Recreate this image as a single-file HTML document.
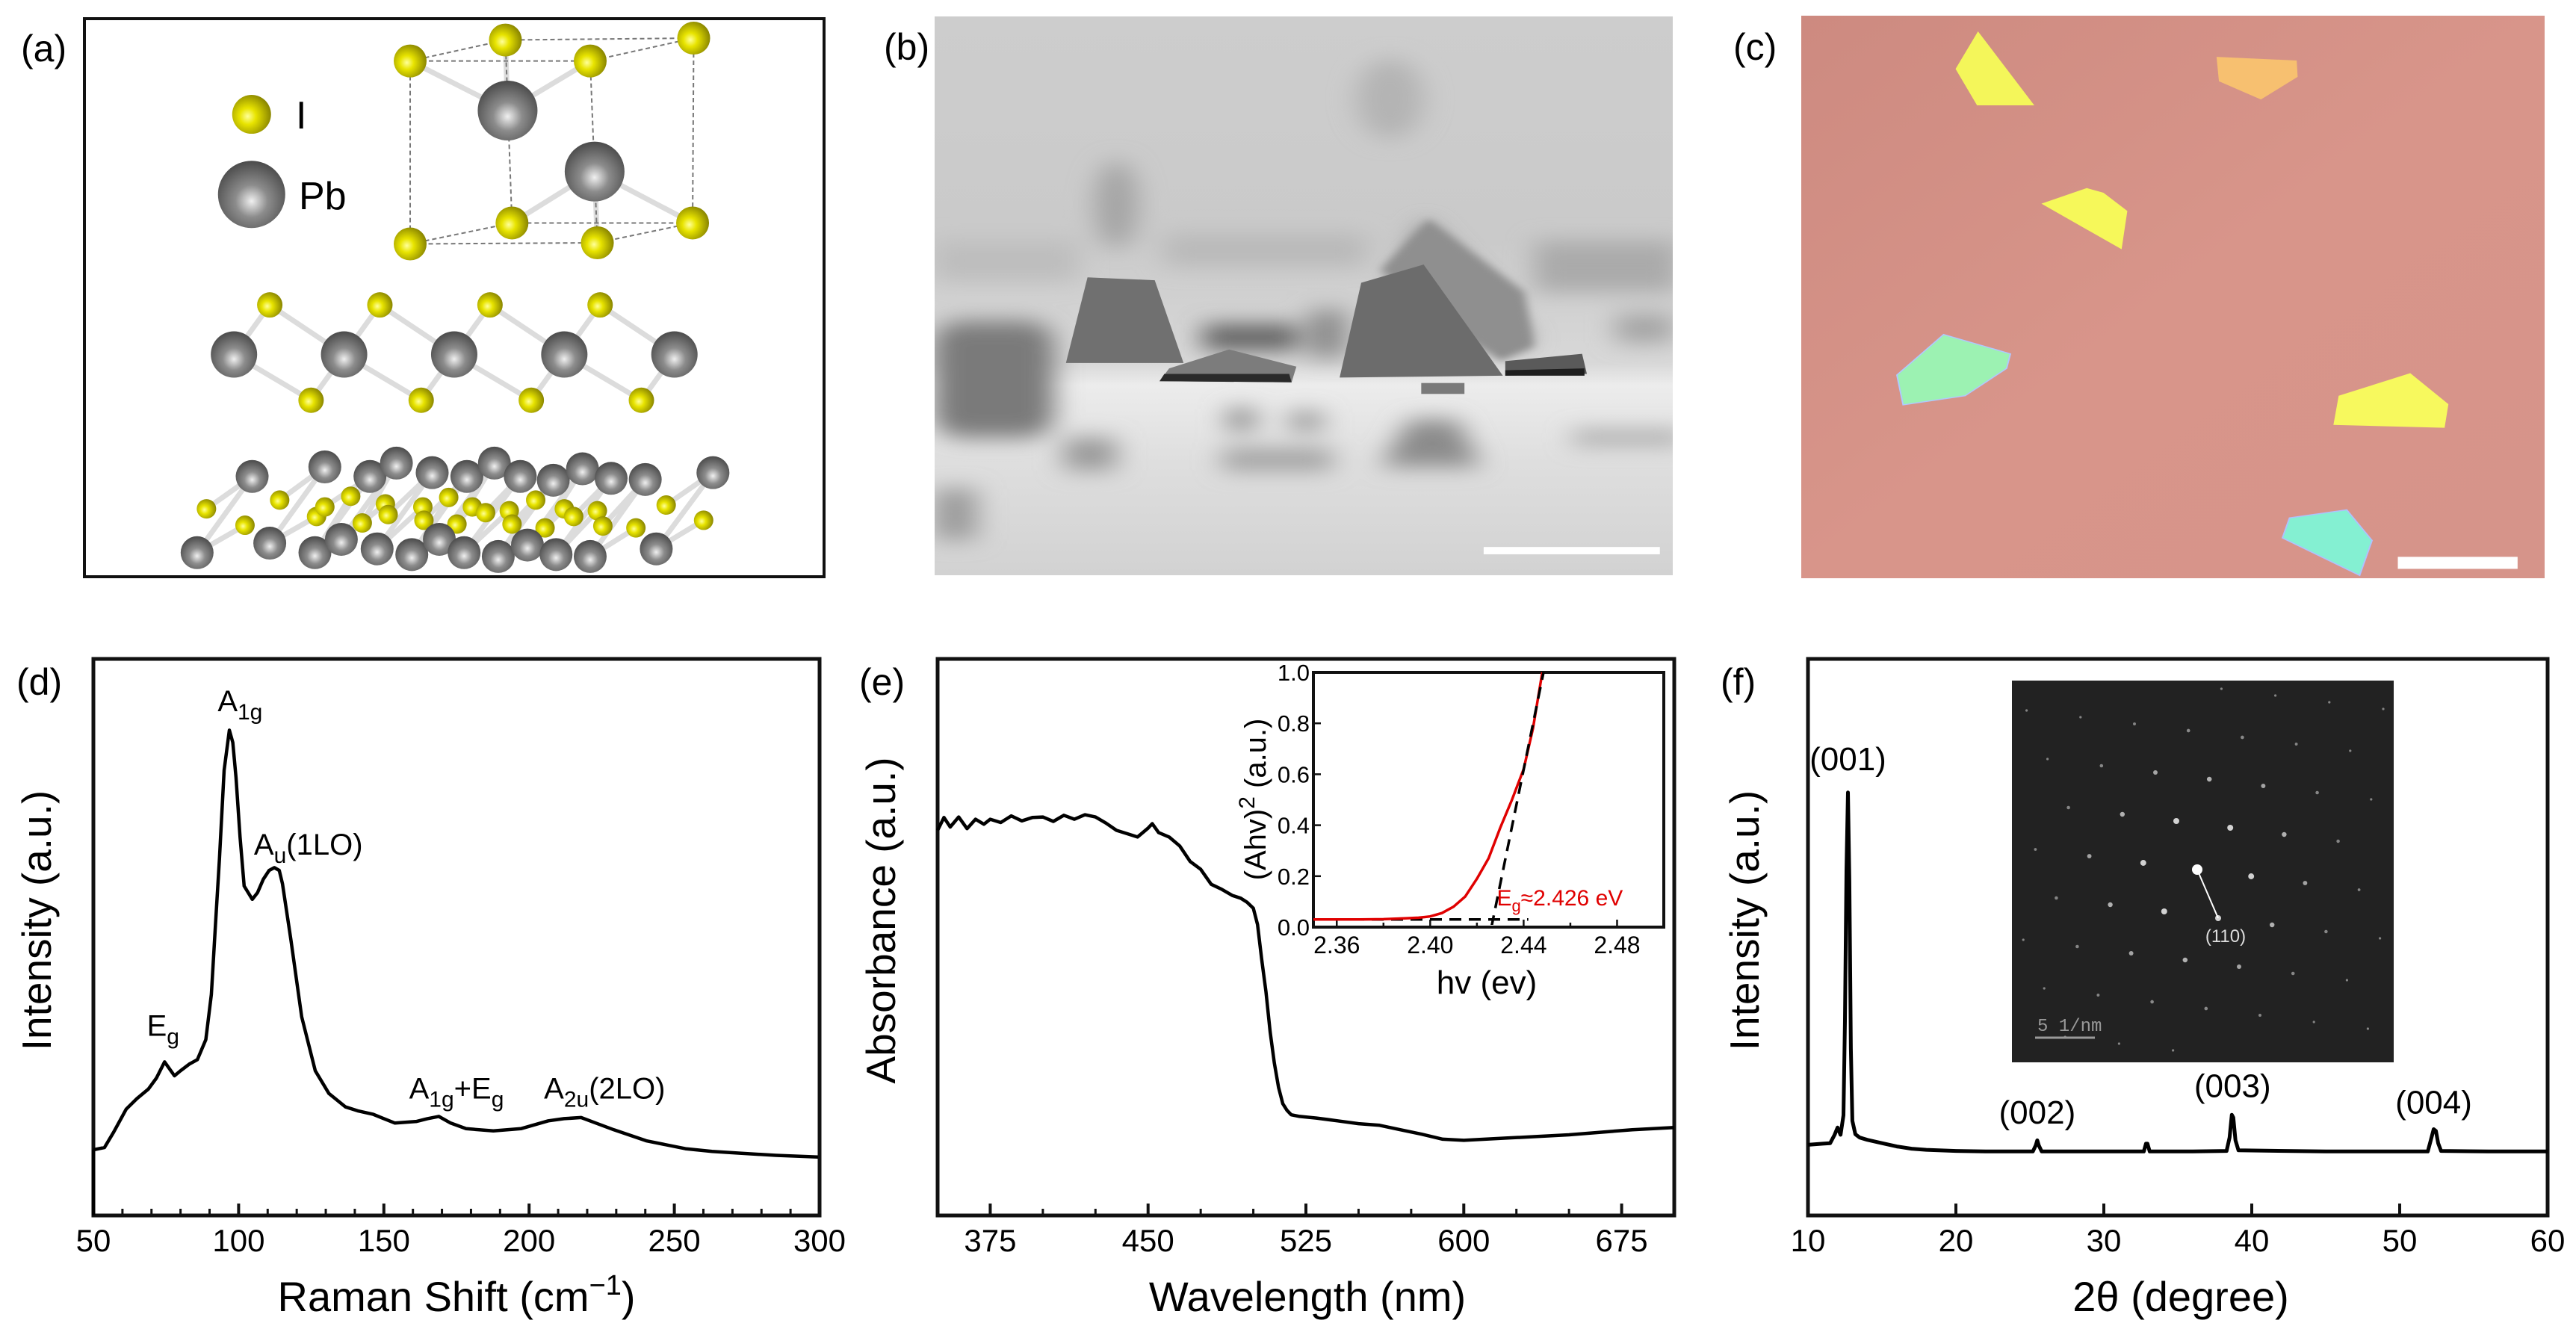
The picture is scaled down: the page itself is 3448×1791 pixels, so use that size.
<!DOCTYPE html>
<html><head><meta charset="utf-8"><title>PbI2 characterization figure</title>
<style>
html,body{margin:0;padding:0;background:#fff;}
svg{display:block;font-family:"Liberation Sans",Arial,sans-serif;}
</style></head>
<body>
<svg id="fig" width="3448" height="1791" viewBox="0 0 3448 1791" xmlns="http://www.w3.org/2000/svg">
<defs>
 <radialGradient id="gI" cx="0.4" cy="0.55" r="0.6"><stop offset="0" stop-color="#ffff9a"/><stop offset="0.35" stop-color="#e8e400"/><stop offset="1" stop-color="#8a8600"/></radialGradient>
 <radialGradient id="gPb" cx="0.5" cy="0.6" r="0.6"><stop offset="0" stop-color="#f0f0f0"/><stop offset="0.4" stop-color="#8c8c8c"/><stop offset="1" stop-color="#4a4a4a"/></radialGradient>
 <filter id="blur12" x="-50%" y="-50%" width="200%" height="200%"><feGaussianBlur stdDeviation="28"/></filter>
 <filter id="blur6" x="-50%" y="-50%" width="200%" height="200%"><feGaussianBlur stdDeviation="10"/></filter>
 <linearGradient id="semBg" x1="0" y1="0" x2="0" y2="1">
  <stop offset="0" stop-color="#cdcdcd"/><stop offset="0.4" stop-color="#cacaca"/><stop offset="0.62" stop-color="#d8d8d8"/><stop offset="0.66" stop-color="#ececec"/><stop offset="0.8" stop-color="#dedede"/><stop offset="1" stop-color="#d2d2d2"/></linearGradient>
 <linearGradient id="omBg" x1="0" y1="0" x2="1" y2="1">
  <stop offset="0" stop-color="#cd8a80"/><stop offset="0.5" stop-color="#d8958a"/><stop offset="1" stop-color="#d6948a"/></linearGradient>
 <clipPath id="clipB"><rect x="1251" y="22" width="988" height="748"/></clipPath>
 <clipPath id="clipD"><rect x="125" y="882" width="970" height="745"/></clipPath>
 <clipPath id="clipEin"><rect x="1753" y="895" width="472" height="343"/></clipPath>
</defs>

<!-- panel labels -->
<text x="28" y="82" font-size="50">(a)</text>
<text x="1183" y="80" font-size="50">(b)</text>
<text x="2320" y="80" font-size="50">(c)</text>
<text x="22" y="930" font-size="50">(d)</text>
<text x="1150" y="930" font-size="50">(e)</text>
<text x="2303" y="930" font-size="50">(f)</text>

<!-- panel a -->
<g id="panelA">
 <rect x="113" y="25" width="990" height="747" fill="#fff" stroke="#111" stroke-width="4"/>
 <g id="aBonds" stroke="#dcdcdc" stroke-width="7"></g>
 <g id="aDash" stroke="#777" stroke-width="2" stroke-dasharray="6,4" fill="none"></g>
 <g id="aAtoms"></g>
 <text x="396" y="172" font-size="52">I</text>
 <text x="400" y="280" font-size="52">Pb</text>
</g>

<!-- panel b SEM -->
<g id="panelB" clip-path="url(#clipB)">
 <rect x="1251" y="22" width="988" height="748" fill="url(#semBg)"/>
 <g transform="translate(1250,20) scale(0.6427,0.4878)">
  <g filter="url(#blur12)" fill="#a8a8a8">
   <ellipse cx="950" cy="230" rx="70" ry="110" fill="#b4b4b4"/>
   <ellipse cx="380" cy="520" rx="45" ry="120" fill="#a4a4a4"/>
   <rect x="0" y="620" width="300" height="110" fill="#bdbdbd"/>
   <rect x="480" y="600" width="420" height="90" fill="#b9b9b9"/>
   <rect x="1250" y="620" width="300" height="140" fill="#aaaaaa"/>
   <polygon points="1020,560 1250,900 900,920" fill="#8a8a8a"/>
   <rect x="0" y="840" width="250" height="320" fill="#7a7a7a" rx="60"/>
   <rect x="560" y="850" width="200" height="70" fill="#5e5e5e"/>
   <rect x="780" y="810" width="80" height="130" fill="#8c8c8c"/>
   <rect x="610" y="1080" width="60" height="60" fill="#8e8e8e"/>
   <rect x="740" y="1090" width="70" height="50" fill="#959595"/>
   <polygon points="990,1110 1090,1110 1140,1240 930,1240" fill="#8b8b8b"/>
   <rect x="270" y="1160" width="110" height="90" fill="#9a9a9a"/>
   <rect x="600" y="1190" width="230" height="60" fill="#a0a0a0"/>
   <rect x="1330" y="1140" width="230" height="40" fill="#a8a8a8"/>
   <rect x="0" y="1300" width="90" height="140" fill="#9c9c9c"/>
   <rect x="1420" y="820" width="120" height="80" fill="#a4a4a4"/>
  </g>
  <g filter="url(#blur6)">
   <polygon points="1030,560 1230,760 1250,910 1180,950 930,700" fill="#8f8f8f"/>
  </g>
  <polygon points="320,720 460,728 520,955 275,955" fill="#707070"/>
  <polygon points="1020,685 1185,990 845,995 890,735" fill="#6c6c6c"/>
  <polygon points="470,1005 490,970 615,918 755,965 745,1008" fill="#7c7c7c"/>
  <polygon points="470,1005 745,1008 740,985 480,985" fill="#2a2a2a"/>
  <polygon points="1190,950 1350,930 1360,985 1190,990" fill="#5a5a5a"/>
  <polygon points="1190,975 1355,970 1355,990 1190,990" fill="#1e1e1e"/>
  <rect x="1015" y="1010" width="90" height="30" fill="#7a7a7a"/>
  <rect x="1145" y="1460" width="367" height="20" fill="#fff"/>
 </g>
</g>

<!-- panel c optical -->
<g id="panelC">
 <rect x="2411" y="21" width="995" height="753" fill="url(#omBg)"/>
 <g transform="translate(2410,20) scale(0.6386,0.4878)">
  <polygon points="372,45 490,248 370,248 325,148" fill="#f4f65a"/>
  <polygon points="872,115 1040,125 1042,170 965,232 877,182" fill="#f7c070"/>
  <polygon points="505,518 600,475 635,488 685,538 673,643" fill="#f6f85a"/>
  <polygon points="300,877 440,930 432,970 345,1045 215,1070 202,988" fill="#9cf2b2" stroke="#b0c8ff" stroke-width="3"/>
  <polygon points="1128,1045 1278,983 1358,1068 1350,1133 1117,1125" fill="#f7f95e"/>
  <polygon points="1025,1380 1145,1358 1198,1442 1172,1538 1010,1435" fill="#84f0d2" stroke="#b0c0ff" stroke-width="3"/>
  <rect x="1252" y="1487" width="251" height="33" fill="#fff"/>
 </g>
</g>

<g id="panelD"></g>
<g id="panelE"></g>
<g id="panelF"></g>
</svg>

<script>
// ---------- DATA ----------
// Raman (d)
const ramanShift = [50,53.8,57,61.3,65,68.9,71.7,74.5,77.9,80,83,85.8,88.7,90.6,92,93.4,95,96.8,98,99.1,100.5,101.9,104.7,106.5,108.5,110.5,112.3,114,115.1,118,121.7,126.4,131.1,136.8,141,146.2,153.8,161.3,165,168.9,173,178.3,187.7,197.2,206.6,212,217.9,223,229.2,240.5,253.8,263,272.6,285,300];
const ramanInt   = [11.8,12.2,15,19.1,21,22.7,24.7,27.6,25.1,26,27.2,28,31.6,39.7,52,64,80,87.2,85,78.7,68,59.2,56.8,58,60.4,62,62.5,62,59.6,49.5,35.7,26,21.9,19.5,18.8,18.2,16.6,16.9,17.4,17.8,16.6,15.6,15.2,15.6,17,17.4,17.6,16.6,15.4,13.4,12,11.5,11.2,10.8,10.5];
const ramanXTicks = [50,100,150,200,250,300];
const ramanLabels = [
 {t:"E",s:"g",tail:"",x:74,y:32.3},
 {t:"A",s:"1g",tail:"",x:100.5,y:90.6},
 {t:"A",s:"u",tail:"(1LO)",x:124,y:64.8},
 {t:"A",s:"1g",tail:"+E",s2:"g",x:175,y:21},
 {t:"A",s:"2u",tail:"(2LO)",x:226,y:21}
];
// Absorbance (e)
const wavelength = [350,353,356,360,364,368,372,375,380,385,390,395,400,405,410,415,420,425,430,435,440,445,450,452,455,460,465,470,475,480,485,490,494,497,500,502,504,506,508,510,512,514,516,518,522,530,540,550,560,570,580,590,600,610,620,630,640,650,660,670,680,690,700];
const absorb     = [69.2,71.5,69.8,71.6,69.5,71.2,70.3,71.2,70.6,71.8,70.9,71.5,71.6,70.8,71.9,71.2,72,71.6,70.5,69.2,68.6,68,69.6,70.4,68.8,68,66.4,63.6,62.2,59.5,58.6,57.5,57,56.3,55.2,52.3,46,40.2,33,27.4,23,20.1,18.9,18.1,17.8,17.5,17,16.5,16.2,15.4,14.6,13.7,13.5,13.7,13.9,14.1,14.3,14.5,14.8,15.1,15.4,15.6,15.8];
const absXTicks = [375,450,525,600,675];
// Inset Tauc
const tauHv  = [2.350,2.360,2.370,2.380,2.390,2.395,2.400,2.405,2.410,2.415,2.420,2.425,2.430,2.435,2.440,2.444,2.448];
const tauVal = [0.030,0.030,0.030,0.031,0.035,0.037,0.042,0.055,0.08,0.12,0.19,0.27,0.39,0.50,0.62,0.78,1.0];
const tauFitX = [2.4262,2.4485];
const tauFitY = [0.0,1.0];
const tauBaseX = [2.350,2.442];
const tauBaseY = [0.030,0.030];
const tauXTicks = ["2.36","2.40","2.44","2.48"];
const tauYTicks = ["0.0","0.2","0.4","0.6","0.8","1.0"];
// XRD (f)
const twoTheta = [10,11,11.5,11.8,12.0,12.2,12.4,12.5,12.6,12.7,12.8,12.9,13.0,13.2,13.5,14,15,16,17,18,20,22,25.2,25.4,25.5,25.6,25.8,28,32.7,32.85,32.95,33.1,36,38.3,38.5,38.65,38.75,38.9,39.1,45,51.9,52.1,52.3,52.45,52.6,52.8,56,60];
const xrdInt   = [12.7,12.9,13.0,14.5,15.8,14.5,18,35,62,76,60,30,17,14.6,14.0,13.6,13.0,12.4,12.0,11.8,11.6,11.5,11.5,12.6,13.5,12.6,11.5,11.5,11.5,12.9,12.9,11.5,11.5,11.6,14,18.1,17.6,13.5,11.7,11.5,11.5,13.5,15.5,15.2,13,11.6,11.5,11.5];
const xrdXTicks = [10,20,30,40,50,60];
const xrdPeaks = [{t:"(001)",x:12.7,y:80},{t:"(002)",x:25.5,y:16.5},{t:"(003)",x:38.7,y:21.3},{t:"(004)",x:52.3,y:18.3}];

// ---------- helpers ----------
const NS="http://www.w3.org/2000/svg";
function mk(tag,attrs,parent){const e=document.createElementNS(NS,tag);for(const k in attrs)e.setAttribute(k,attrs[k]);parent.appendChild(e);return e;}
function lin(d0,d1,r0,r1){return v=>r0+(v-d0)/(d1-d0)*(r1-r0);}
function pathOf(xs,ys,sx,sy){return xs.map((x,i)=>(i?"L":"M")+sx(x).toFixed(1)+","+sy(ys[i]).toFixed(1)).join(" ");}

function axesFrame(g,L,T,R,B,sx,ticks,minor,tickFont,labelY){
  const fr=mk("rect",{x:L,y:T,width:R-L,height:B-T,fill:"none",stroke:"#111","stroke-width":5},g);
  
  
  minor.forEach(v=>{const t=mk("line",{x1:sx(v),x2:sx(v),y1:B,y2:B-9,stroke:"#111","stroke-width":3},g);
    
    });
  ticks.forEach(v=>{const x=sx(v);
    const t=mk("line",{x1:x,x2:x,y1:B,y2:B-16,stroke:"#111","stroke-width":4},g);
    
    
    const tl=mk("text",{x:x,y:labelY,"font-size":tickFont,"text-anchor":"middle"},g);tl.textContent=v;
    
    });
}

// ---------- panel a ----------
(function(){
 const atoms=document.getElementById('aAtoms'),bonds=document.getElementById('aBonds'),dash=document.getElementById('aDash');
 const X=zx=>zx/1.357, Y=zy=>zy/1.96;
 function atom(zx,zy,r,kind,name){const c=mk("circle",{cx:X(zx),cy:Y(zy),r:r,fill:kind==="I"?"url(#gI)":"url(#gPb)"},atoms);
   
   }
 function bond(a,b){mk("line",{x1:X(a[0]),y1:Y(a[1]),x2:X(b[0]),y2:Y(b[1])},bonds);}
 atom(457,300,26,"I","legend-iodine-atom");
 atom(457,510,45,"Pb","legend-lead-atom");
 const I=[[745,160],[918,105],[1072,160],[1260,100],[745,640],[930,585],[1085,637],[1258,585]];
 const P=[[922,290],[1080,450]];
 [[0,1],[1,3],[3,2],[2,0],[4,5],[5,7],[7,6],[6,4],[0,4],[1,5],[2,6],[3,7]].forEach(p=>{
   mk("line",{x1:X(I[p[0]][0]),y1:Y(I[p[0]][1]),x2:X(I[p[1]][0]),y2:Y(I[p[1]][1])},dash);});
 [0,1,2].forEach(i=>bond(P[0],I[i]));[5,6,7].forEach(i=>bond(P[1],I[i]));
 I.forEach(p=>atom(p[0],p[1],22,"I","iodine-atom"));
 P.forEach(p=>atom(p[0],p[1],40,"Pb","lead-atom"));
 const pbM=[425,625,825,1025,1225].map(x=>[x,930]);
 const iT=[490,690,890,1090].map(x=>[x,800]);
 const iB=[565,765,965,1165].map(x=>[x,1050]);
 for(let k=0;k<4;k++){bond(pbM[k],iT[k]);bond(iT[k],pbM[k+1]);bond(pbM[k],iB[k]);bond(iB[k],pbM[k+1]);}
 pbM.forEach(p=>atom(p[0],p[1],31,"Pb","lead-atom"));
 iT.concat(iB).forEach(p=>atom(p[0],p[1],17,"I","iodine-atom"));
 const pTop=[[458,1250],[590,1225],[672,1250],[720,1215],[785,1240],[848,1250],[898,1215],[945,1250],[1005,1260],[1058,1230],[1110,1255],[1172,1258],[1295,1240]];
 const pBot=[[358,1450],[490,1425],[572,1450],[620,1415],[685,1440],[748,1455],[798,1415],[843,1450],[905,1460],[958,1430],[1010,1455],[1072,1460],[1192,1440]];
 const iC=[[375,1335],[445,1378],[508,1312],[575,1355],[590,1330],[637,1302],[658,1372],[700,1322],[705,1350],[768,1330],[770,1365],[815,1305],[830,1375],[858,1330],[882,1345],[925,1340],[930,1375],[973,1312],[990,1385],[1025,1335],[1042,1355],[1085,1340],[1095,1380],[1155,1385],[1210,1325],[1278,1365]];
 pTop.forEach((p,i)=>{bond(p,iC[Math.min(iC.length-1,i*2)]);bond(p,pBot[i]);});
 pBot.forEach((p,i)=>bond(p,iC[Math.min(iC.length-1,i*2+1)]));
 pTop.forEach(p=>atom(p[0],p[1],22,"Pb","lead-atom"));
 iC.forEach(p=>atom(p[0],p[1],13,"I","iodine-atom"));
 pBot.forEach(p=>atom(p[0],p[1],22,"Pb","lead-atom"));
})();

// ---------- panel d ----------
(function(){
 const g=document.getElementById('panelD');
 const L=125,T=882,R=1097,B=1627;
 const sx=lin(50,300,L,R), sy=lin(0,100,B,T);
 const minor=[];for(let v=60;v<300;v+=10)if(v%50)minor.push(v);
 axesFrame(g,L,T,R,B,sx,ramanXTicks,minor,42,1675);
 const vl=mk("line",{x1:L,x2:L,y1:B,y2:sy(ramanInt[0]),stroke:"#000","stroke-width":5},g);
 
 
 const p=mk("path",{d:pathOf(ramanShift,ramanInt,sx,sy),fill:"none",stroke:"#000","stroke-width":4.5,"stroke-linejoin":"round","clip-path":"url(#clipD)"},g);
 
 
 ramanLabels.forEach(l=>{
   const t=mk("text",{x:sx(l.x),y:sy(l.y),"font-size":40,"text-anchor":"middle"},g);
   
   
   let h=l.t+'<tspan font-size="30" dy="11">'+l.s+'</tspan>';
   if(l.s2){h+='<tspan dy="-11">'+l.tail+'</tspan><tspan font-size="30" dy="11">'+l.s2+'</tspan>';}
   else if(l.tail){h+='<tspan dy="-11">'+l.tail+'</tspan>';}
   t.innerHTML=h;});
 const xt=mk("text",{x:611,y:1755,"font-size":56,"text-anchor":"middle"},g);
 xt.innerHTML='Raman Shift (cm<tspan font-size="38" dy="-22">−1</tspan><tspan dy="22">)</tspan>';
 
 
 const yt=mk("text",{x:0,y:0,"font-size":55,"text-anchor":"middle",transform:"translate(68,1232) rotate(-90)"},g);
 yt.textContent="Intensity (a.u.)";
 
 
})();

// ---------- panel e ----------
(function(){
 const g=document.getElementById('panelE');
 const L=1255,T=882,R=2241,B=1627;
 const sx=lin(350,700,L,R), sy=lin(0,100,B,T);
 const minor=[];for(let v=350;v<700;v+=25)if(absXTicks.indexOf(v)<0)minor.push(v);
 axesFrame(g,L,T,R,B,sx,absXTicks,minor,42,1675);
 const p=mk("path",{d:pathOf(wavelength,absorb,sx,sy),fill:"none",stroke:"#000","stroke-width":4.5,"stroke-linejoin":"round"},g);
 
 
 const xt=mk("text",{x:1750,y:1755,"font-size":56,"text-anchor":"middle"},g);xt.textContent="Wavelength (nm)";
 
 
 const yt=mk("text",{x:0,y:0,"font-size":55,"text-anchor":"middle",transform:"translate(1198,1232) rotate(-90)"},g);yt.textContent="Absorbance (a.u.)";
 
 
 // inset
 const iL=1758,iT=900,iR=2227,iB=1241;
 const ix=lin(2.35,2.50,iL,iR), iy=lin(0,1,iB,iT);
 const bg=mk("rect",{x:iL,y:iT,width:iR-iL,height:iB-iT,fill:"#fff",stroke:"#111","stroke-width":4},g);
 
 
 for(let v=2.36;v<2.495;v+=0.02){const t=mk("line",{x1:ix(v),x2:ix(v),y1:iB,y2:iB-(Math.round(v*100)%4===0?10:6),stroke:"#111","stroke-width":2.5},g);
   
   }
 tauXTicks.forEach(s=>{const t=mk("text",{x:ix(+s),y:1276,"font-size":32,"text-anchor":"middle"},g);t.textContent=s;
   
   });
 tauYTicks.forEach(s=>{const y=iy(+s);
   const tk=mk("line",{x1:iL,x2:iL+10,y1:y,y2:y,stroke:"#111","stroke-width":2.5},g);
   
   
   const t=mk("text",{x:iL-5,y:y+11,"font-size":31,"text-anchor":"end"},g);t.textContent=s;
   
   });
 const cg=mk("g",{"clip-path":"url(#clipEin)"},g);
 const bl=mk("path",{d:pathOf(tauBaseX,tauBaseY,ix,iy),stroke:"#000","stroke-width":3.5,"stroke-dasharray":"16,10",fill:"none"},cg);
 
 
 const rc=mk("path",{d:pathOf(tauHv,tauVal,ix,iy),stroke:"#e00000","stroke-width":3.5,fill:"none"},cg);
 
 
 const fl=mk("path",{d:pathOf(tauFitX,tauFitY,ix,iy),stroke:"#000","stroke-width":3.5,"stroke-dasharray":"16,10",fill:"none"},cg);
 
 
 const eg=mk("text",{x:ix(2.4285),y:iy(0.085),"font-size":30,fill:"#e00000"},g);
 eg.innerHTML='E<tspan font-size="22" dy="8">g</tspan><tspan dy="-8">≈2.426 eV</tspan>';
 
 
 const ixt=mk("text",{x:1990,y:1330,"font-size":44,"text-anchor":"middle"},g);ixt.textContent="hv (ev)";
 
 
 const iyt=mk("text",{x:0,y:0,"font-size":40,"text-anchor":"middle",transform:"translate(1694,1070) rotate(-90)"},g);
 iyt.innerHTML='(Ahv)<tspan font-size="30" dy="-15">2</tspan><tspan dy="15"> (a.u.)</tspan>';
 
 
})();

// ---------- panel f ----------
(function(){
 const g=document.getElementById('panelF');
 const L=2420,T=882,R=3410,B=1627;
 const sx=lin(10,60,L,R), sy=lin(0,100,B,T);
 axesFrame(g,L,T,R,B,sx,xrdXTicks,[],42,1675);
 const iL=2693,iT=911,iW=511,iH=511;
 const r=mk("rect",{x:iL,y:iT,width:iW,height:iH,fill:"#222"},g);
 
 
 const cx=2941,cy=1164,a1=[72.2,9],a2=[28,65];
 for(let i=-5;i<=5;i++)for(let j=-5;j<=5;j++){
   const x=cx+i*a1[0]+j*a2[0], y=cy+i*a1[1]+j*a2[1];
   if(x<iL+8||x>iL+iW-8||y<iT+8||y>iT+iH-8)continue;
   const d=Math.hypot(x-cx,y-cy);const rad=d<5?7:Math.max(1.6,5-d/70);
   const s=mk("circle",{cx:x,cy:y,r:rad,fill:"#fff","fill-opacity":Math.max(0.45,1-d/350)},g);
   
   }
 const ln=mk("line",{x1:cx,y1:cy,x2:cx+a2[0],y2:cy+a2[1],stroke:"#fff","stroke-width":2},g);
 
 
 const lt=mk("text",{x:cx+a2[0]+10,y:cy+a2[1]+32,"font-size":24,fill:"#ddd","text-anchor":"middle"},g);lt.textContent="(110)";
 
 
 const sb=mk("line",{x1:2724,x2:2804,y1:1389,y2:1389,stroke:"#999","stroke-width":3},g);
 
 
 const st=mk("text",{x:2727,y:1380,"font-size":24,fill:"#999","font-family":"Liberation Mono, monospace"},g);st.textContent="5 1/nm";
 
 
 const p=mk("path",{d:pathOf(twoTheta,xrdInt,sx,sy),fill:"none",stroke:"#000","stroke-width":5,"stroke-linejoin":"round"},g);
 
 
 xrdPeaks.forEach(k=>{const t=mk("text",{x:sx(k.x),y:sy(k.y),"font-size":44,"text-anchor":"middle"},g);t.textContent=k.t;
   
   });
 const xt=mk("text",{x:2919,y:1755,"font-size":56,"text-anchor":"middle"},g);xt.textContent="2θ (degree)";
 
 
 const yt=mk("text",{x:0,y:0,"font-size":55,"text-anchor":"middle",transform:"translate(2354,1232) rotate(-90)"},g);yt.textContent="Intensity (a.u.)";
 
 
})();
</script>
</body></html>
